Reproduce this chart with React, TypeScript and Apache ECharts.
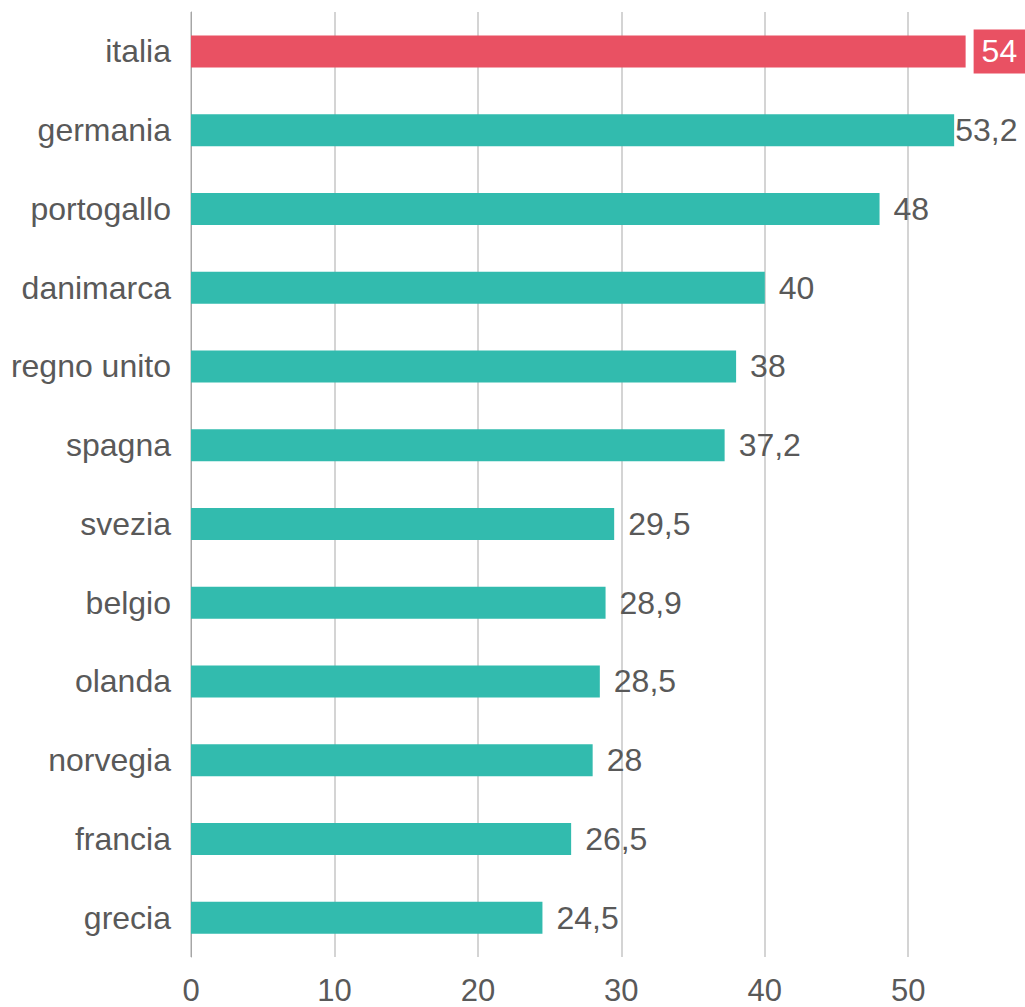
import React, { useEffect, useRef } from "react";
import * as echarts from "echarts";

const countries = ["italia", "germania", "portogallo", "danimarca", "regno unito", "spagna", "svezia", "belgio", "olanda", "norvegia", "francia", "grecia"];
const values = [54, 53.2, 48, 40, 38, 37.2, 29.5, 28.9, 28.5, 28, 26.5, 24.5];
const highlight = "italia";

const TEAL = "#32BBAE";
const RED = "#E95163";
const TEXT = "#595959";
const FONT = "Arial";

export default function App() {
  const ref = useRef<HTMLDivElement>(null);
  useEffect(() => {
    document.body.style.margin = "0";
    const chart = echarts.init(ref.current!, null, { renderer: "svg" });
    const data = countries.map((c, i) => {
      const isHi = c === highlight;
      const item: any = {
        value: values[i],
        itemStyle: { color: isHi ? RED : TEAL },
      };
      if (isHi) {
        item.label = {
          color: "#fff",
          backgroundColor: RED,
          padding: [6, 10, 6, 8],
          distance: 8,
        };
      } else if (c === "germania") {
        item.label = { distance: 1 };
      }
      return item;
    });
    chart.setOption({
      animation: false,
      textStyle: { fontFamily: FONT },
      grid: { left: 191, top: 12, bottom: 50, right: 2, containLabel: false },
      xAxis: {
        type: "value",
        min: 0,
        max: 58,
        interval: 10,
        axisLine: { show: false },
        axisTick: { show: false },
        splitLine: { show: true, showMaxLine: false, lineStyle: { color: "#D4D4D4", width: 2 } },
        axisLabel: { color: TEXT, fontSize: 31, margin: 18, fontFamily: FONT, showMaxLabel: false },
      },
      yAxis: {
        type: "category",
        inverse: true,
        data: countries,
        axisLine: { show: true, lineStyle: { color: "#A6A6A6", width: 1 } },
        axisTick: { show: false },
        axisLabel: { color: TEXT, fontSize: 32, margin: 20, fontFamily: FONT },
      },
      series: [
        {
          type: "bar",
          data,
          barWidth: 32,
          label: {
            show: true,
            position: "right",
            distance: 14,
            color: TEXT,
            fontSize: 32,
            fontFamily: FONT,
            formatter: (p: any) => String(p.value).replace(".", ","),
          },
        },
      ],
    });
    return () => chart.dispose();
  }, []);
  return <div ref={ref} style={{ width: 1025, height: 1007 }} />;
}
